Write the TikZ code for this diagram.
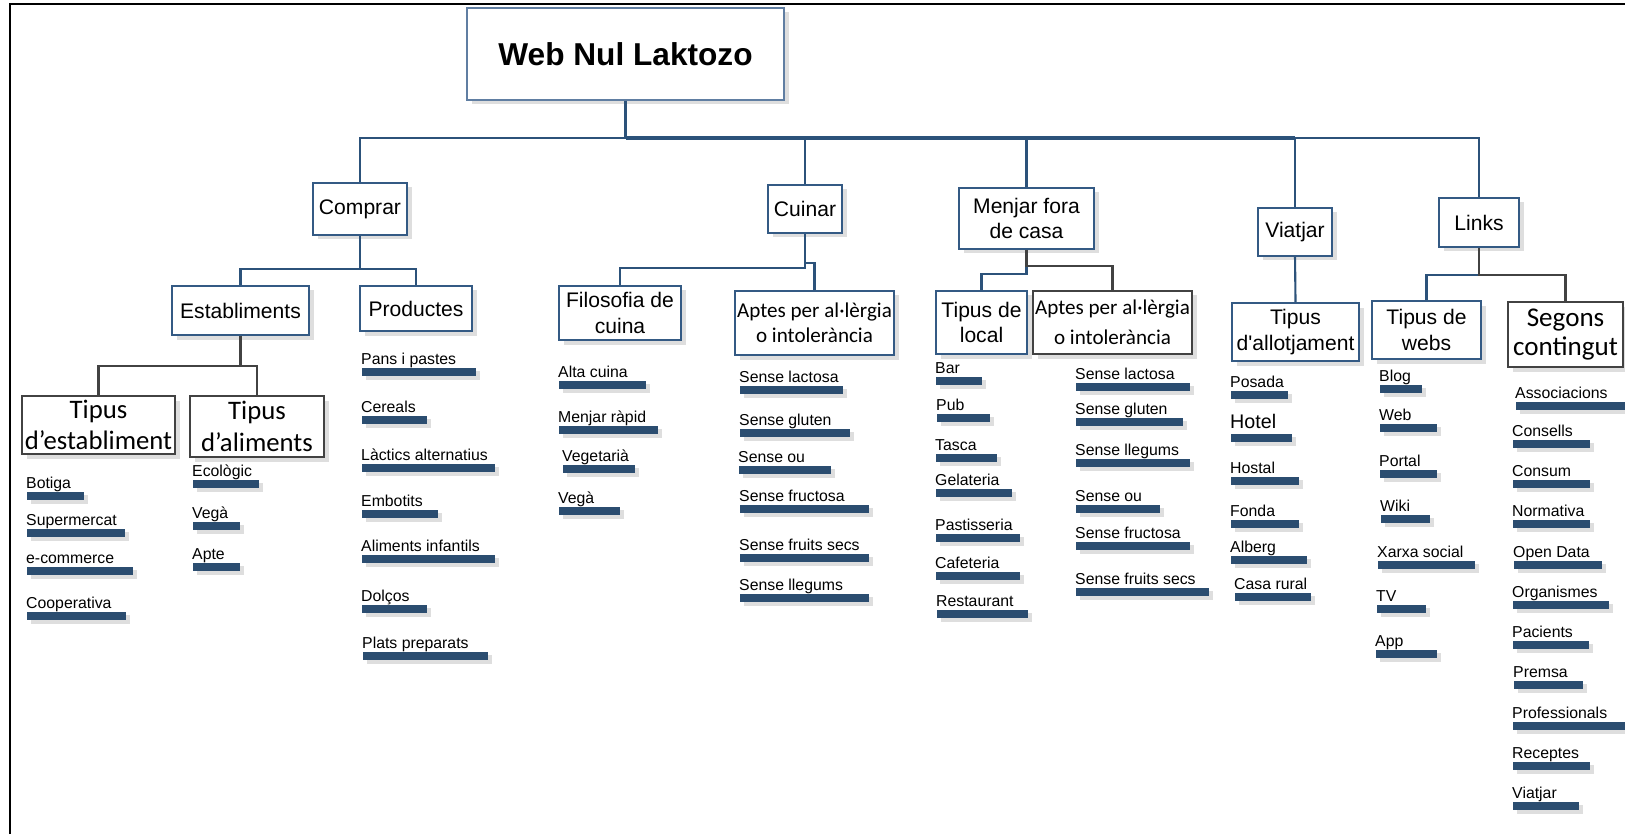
\documentclass[tikz,border=0pt]{standalone}
\usepackage{fontspec}
\setmainfont{Liberation Sans}
\newfontfamily\carlito{Carlito}
\usepackage{tikz}
\usetikzlibrary{shadows}
\definecolor{lineblue}{RGB}{44,82,122}
\definecolor{boxblue}{RGB}{52,90,132}
\definecolor{rootblue}{RGB}{96,126,162}
\definecolor{barblue}{RGB}{43,77,112}
\definecolor{linegray}{RGB}{66,66,66}
\definecolor{shade}{RGB}{222,222,222}
\newcommand{\leaffont}{\fontsize{4.5}{5.4}\selectfont}
\newcommand{\boxfont}{\fontsize{6}{7.3}\selectfont}

\begin{document}
\begin{tikzpicture}[x={(0.1mm,0)},y={(0,-0.1mm)},
		box/.style={rectangle,draw=boxblue,line width=0.55pt,fill=white,inner sep=0,align=center,font=\boxfont,
			drop shadow={shadow xshift=0.45mm,shadow yshift=-0.45mm,fill=shade,opacity=1}},
		graybox/.style={box,draw=linegray},
		boxsize/.style 2 args={minimum width=#1*0.1mm,minimum height=#2*0.1mm},
		leafbar/.style={rectangle,fill=barblue,inner sep=0,minimum height=0.85mm,anchor=north west,
			drop shadow={shadow xshift=0.4mm,shadow yshift=-0.35mm,fill=shade,opacity=1}},
		leaflabel/.style={anchor=base west,inner sep=0,xshift=-0.05mm,yshift=0.25mm,fill=none,font=\leaffont},
		leaf/.style={leafbar,label={[leaflabel]north west:#1}},
		barw/.style={minimum width=#1*0.1mm},
		conn/.style={draw=lineblue,line width=0.6pt},
		grayconn/.style={draw=linegray,line width=0.6pt},
		busline/.style={draw=lineblue,line width=1.1pt}]
		\useasboundingbox (0,0) rectangle (1625,834);
		\draw[line width=0.75pt] (10,834) -- (10,4) -- (1625,4);
		
		\node[box,boxsize={317}{92},draw=rootblue,line width=0.4pt,font=\fontsize{9}{11}\selectfont\bfseries] (root) at (625.5,54) {Web Nul Laktozo};
		
		\node[box,boxsize={94}{52}]  (comprar) at (360,209)      {Comprar};
		\node[box,boxsize={74}{48}]  (cuinar)  at (805,209)      {Cuinar};
		\node[box,boxsize={135}{61}] (menjar)  at (1026.5,218.5) {Menjar fora\\de casa};
		\node[box,boxsize={74}{48}]  (viatjar) at (1295,232)     {Viatjar};
		\node[box,boxsize={80}{49}]  (links)   at (1479,222.5)   {Links};
		
		\node[box,boxsize={137}{49}] (establiments) at (240.5,310.5) {Establiments};
		\node[box,boxsize={112}{45}] (productes)    at (416,308.5)   {Productes};
		\node[box,boxsize={122}{54}] (filosofia)    at (620,313)     {Filosofia de\\cuina};
		\node[box,boxsize={159}{64},font=\carlito\fontsize{6}{7}\selectfont] (aptescuina) at (814.5,323) {Aptes per al·lèrgia\\o intolerància};
		\node[box,boxsize={91}{63}]  (local)        at (981.5,322.5) {Tipus de\\local};
		\node[graybox,boxsize={159}{63},font=\carlito\fontsize{6}{8.5}\selectfont] (aptesfora) at (1112.5,322.5) {Aptes per al·lèrgia\\o intolerància};
		\node[box,boxsize={127}{58}] (allotjament)  at (1295.5,332)  {Tipus\\d\textquotesingle allotjament};
		\node[box,boxsize={109}{58}] (webs)         at (1426.5,330)  {Tipus de\\webs};
		\node[graybox,boxsize={115}{65},font=\carlito\fontsize{7.7}{8.5}\selectfont] (segons) at (1565.5,334.5) {Segons\\contingut};
		
		\node[graybox,boxsize={153}{58},font=\carlito\fontsize{7.6}{9}\selectfont] (tipusest)  at (98.5,425)  {Tipus\\d’establiment};
		\node[graybox,boxsize={134}{61},font=\carlito\fontsize{7.6}{9}\selectfont] (tipusalim) at (257,426.5) {Tipus\\d’aliments};
		
		\draw[busline] (root.south) -- ++(0,37) coordinate (bus);
		\draw[conn] (bus) -| (comprar.north);
		\draw[busline] (bus) -- (bus -| viatjar.north);
		\draw[conn] (bus -| viatjar.north) -| (links.north);
		\draw[conn] (bus -| cuinar.north) -- (cuinar.north);
		\draw[conn] (bus -| menjar.north) -- (menjar.north);
		\draw[conn] (bus -| viatjar.north) -- (viatjar.north);
		
		\draw[conn] (comprar.south) -- ++(0,33) -| (establiments.north);
		\draw[conn] (comprar.south) ++(0,33) -| (productes.north);
		\draw[grayconn] (establiments.south) -- ++(0,30) -| (tipusest.north);
		\draw[grayconn] (establiments.south) ++(0,30) -| (tipusalim.north);
		\draw[conn] (cuinar.south) -- ++(0,34) -| (filosofia.north);
		\draw[conn] (cuinar.south) ++(0,29) -| (aptescuina.north);
		\draw[conn] (menjar.south) -- ++(0,24) -| (local.north);
		\draw[grayconn] (menjar.south) -- ++(0,16) -| (aptesfora.north);
		\draw[conn] (viatjar.south) -- (allotjament.north);
		\draw[conn] (links.south) ++(0,27) -| (webs.north);
		\draw[grayconn] (links.south) -- ++(0,27) -| (segons.north);
		
		\node[leaf=Botiga,barw=57]       (botiga)      at (26,491) {};
		\node[leaf=Supermercat,barw=98]  (supermercat) at (26,528) {};
		\node[leaf=e-commerce,barw=106]  (ecommerce)   at (26,566) {};
		\node[leaf=Cooperativa,barw=99]  (cooperativa) at (26,611) {};
		
		\node[leaf=Ecològic,barw=66] (ecologic) at (192,479) {};
		\node[leaf=Vegà,barw=47]     (vegaal)   at (192,521) {};
		\node[leaf=Apte,barw=47]     (apte)     at (192,562) {};
		
		\node[leaf=Pans i pastes,barw=114]       (pans)      at (361,367) {};
		\node[leaf=Cereals,barw=65]              (cereals)   at (361,415) {};
		\node[leaf=Làctics alternatius,barw=133] (lactics)   at (361,463) {};
		\node[leaf=Embotits,barw=76]             (embotits)  at (361,509) {};
		\node[leaf=Aliments infantils,barw=133]  (infantils) at (361,554) {};
		\node[leaf=Dolços,barw=65]               (dolcos)    at (361,604) {};
		\node[leaf=Plats preparats,barw=125]     (plats)     at (362,651) {};
		
		\node[leaf=Alta cuina,barw=87]   (altacuina) at (558,380) {};
		\node[leaf=Menjar ràpid,barw=99] (rapid)     at (558,425) {};
		\node[leaf=Vegetarià,barw=72]    (vegetaria) at (562,464) {};
		\node[leaf=Vegà,barw=61]         (vegacu)    at (558,506) {};
		
		\node[leaf=Sense lactosa,barw=103]     (lactosacu)  at (739,385) {};
		\node[leaf=Sense gluten,barw=110]      (glutencu)   at (739,428) {};
		\node[leaf=Sense ou,barw=92]           (oucu)       at (738,465) {};
		\node[leaf=Sense fructosa,barw=129]    (fructosacu) at (739,504) {};
		\node[leaf=Sense fruits secs,barw=129] (fruitscu)   at (739,553) {};
		\node[leaf=Sense llegums,barw=129]     (llegumscu)  at (739,593) {};
		
		\node[leaf=Bar,barw=46]         (bar)         at (935,376) {};
		\node[leaf=Pub,barw=53]         (pub)         at (936,413) {};
		\node[leaf=Tasca,barw=61]       (tasca)       at (935,453) {};
		\node[leaf=Gelateria,barw=76]   (gelateria)   at (935,488) {};
		\node[leaf=Pastisseria,barw=84] (pastisseria) at (935,533) {};
		\node[leaf=Cafeteria,barw=84]   (cafeteria)   at (935,571) {};
		\node[leaf=Restaurant,barw=91]  (restaurant)  at (936,609) {};
		
		\node[leaf=Sense lactosa,barw=114]     (lactosafo)  at (1075,382) {};
		\node[leaf=Sense gluten,barw=107]      (glutenfo)   at (1075,417) {};
		\node[leaf=Sense llegums,barw=114]     (llegumsfo)  at (1075,458) {};
		\node[leaf=Sense ou,barw=84]           (oufo)       at (1075,504) {};
		\node[leaf=Sense fructosa,barw=114]    (fructosafo) at (1075,541) {};
		\node[leaf=Sense fruits secs,barw=133] (fruitsfo)   at (1075,587) {};
		
		\node[leaf=Posada,barw=57] (posada) at (1230,390) {};
		\node[leafbar,barw=61,label={[leaflabel,yshift=0.25mm,font=\fontsize{5.6}{6.7}\selectfont]north west:Hotel}] (hotel) at (1230,433) {};
		\node[leaf=Hostal,barw=68]     (hostal)    at (1230,476) {};
		\node[leaf=Fonda,barw=68]      (fonda)     at (1230,519) {};
		\node[leaf=Alberg,barw=76]     (alberg)    at (1230,555) {};
		\node[leaf=Casa rural,barw=76] (casarural) at (1234,592) {};
		
		\node[leaf=Blog,barw=42]         (blog)   at (1379,384) {};
		\node[leaf=Web,barw=57]          (web)    at (1379,423) {};
		\node[leaf=Portal,barw=57]       (portal) at (1379,469) {};
		\node[leaf=Wiki,barw=49]         (wiki)   at (1380,514) {};
		\node[leaf=Xarxa social,barw=97] (xarxa)  at (1377,560) {};
		\node[leaf=TV,barw=49]           (tv)     at (1376,604) {};
		\node[leaf=App,barw=61]          (app)    at (1375,649) {};
		
		\node[leaf=Associacions,barw=115]  (associacions)  at (1515,401) {};
		\node[leaf=Consells,barw=77]       (consells)      at (1512,439) {};
		\node[leaf=Consum,barw=77]         (consum)        at (1512,479) {};
		\node[leaf=Normativa,barw=77]      (normativa)     at (1512,519) {};
		\node[leaf=Open Data,barw=88]      (opendata)      at (1513,560) {};
		\node[leaf=Organismes,barw=96]     (organismes)    at (1512,600) {};
		\node[leaf=Pacients,barw=76]       (pacients)      at (1512,640) {};
		\node[leaf=Premsa,barw=69]         (premsa)        at (1513,680) {};
		\node[leaf=Professionals,barw=115] (professionals) at (1512,721) {};
		\node[leaf=Receptes,barw=77]       (receptes)      at (1512,761) {};
		\node[leaf=Viatjar,barw=66]        (viatjarlk)     at (1512,801) {};
\end{tikzpicture}
\end{document}
